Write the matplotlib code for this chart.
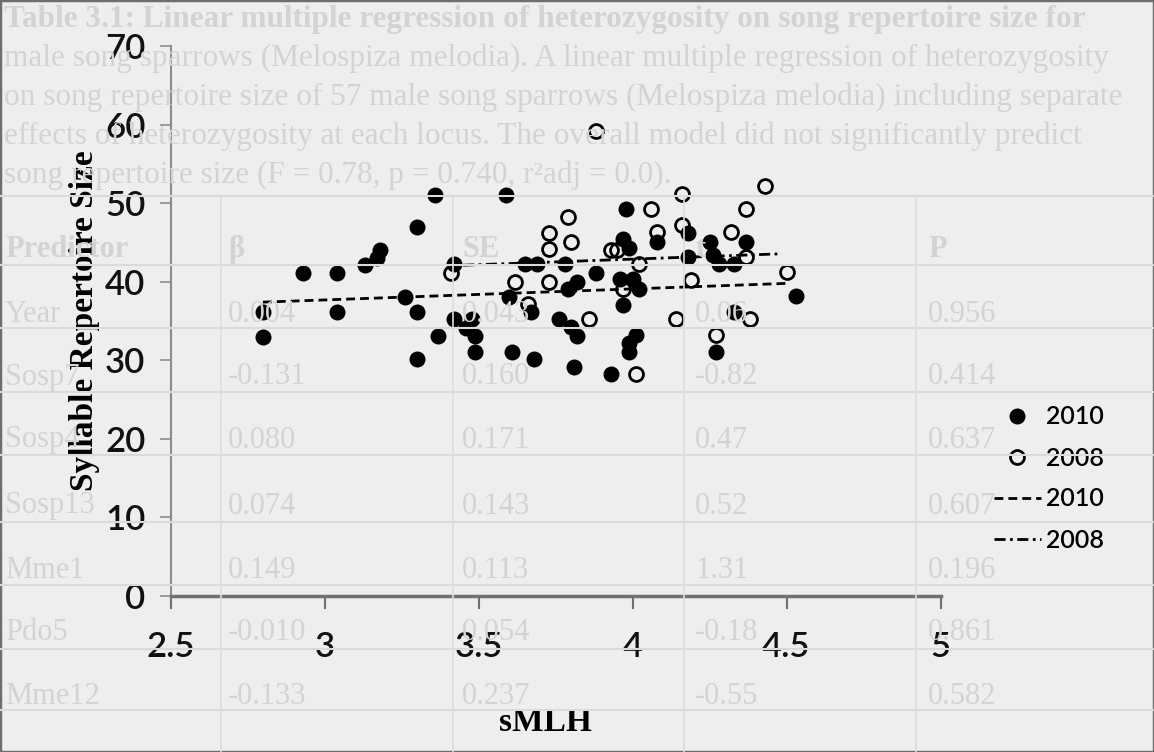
import matplotlib
matplotlib.use("Agg")
import matplotlib.pyplot as plt
from matplotlib.lines import Line2D
from matplotlib.patches import Rectangle
from matplotlib.ticker import FuncFormatter

# points (sMLH, syllable repertoire size)
x_2010 = [2.80, 2.80, 2.93, 3.04, 3.04, 3.13, 3.17, 3.18, 3.26, 3.30, 3.30, 3.30,
          3.36, 3.37, 3.42, 3.42, 3.46, 3.48, 3.49, 3.49, 3.59, 3.60, 3.61, 3.65,
          3.67, 3.68, 3.69, 3.76, 3.78, 3.79, 3.80, 3.82, 3.82, 3.81, 3.88, 3.93,
          3.97, 3.96, 3.97, 3.98, 3.99, 4.00, 4.01, 3.99, 3.99, 4.02, 4.08, 4.18,
          4.18, 4.25, 4.26, 4.28, 4.33, 4.33, 4.27, 4.37, 4.53]
y_2010 = [36.1, 33.0, 41.1, 41.1, 36.1, 42.1, 43.0, 44.1, 38.1, 47.0, 36.1, 30.2,
          51.1, 33.1, 42.3, 35.2, 34.1, 35.2, 33.1, 31.0, 51.1, 38.1, 31.1, 42.2,
          36.1, 30.2, 42.2, 35.2, 42.2, 39.1, 34.2, 33.1, 40.0, 29.1, 41.1, 28.2,
          37.1, 40.3, 45.4, 49.2, 44.3, 40.3, 33.2, 32.2, 31.1, 39.1, 45.1, 46.2,
          43.2, 45.1, 43.4, 42.2, 42.2, 36.2, 31.1, 45.1, 38.2]

x_2008 = [3.41, 3.62, 3.66, 3.73, 3.73, 3.73, 3.79, 3.80, 3.86, 3.88, 3.93, 3.95,
          3.97, 4.01, 4.02, 4.06, 4.08, 4.14, 4.16, 4.16, 4.19, 4.27, 4.32, 4.37,
          4.37, 4.38, 4.43, 4.50]
y_2008 = [41.1, 40.0, 37.2, 46.2, 44.2, 40.0, 48.2, 45.1, 35.2, 59.2, 44.1, 44.1,
          39.1, 28.2, 42.2, 49.2, 46.3, 35.2, 51.2, 47.2, 40.2, 33.2, 46.3, 49.2,
          43.1, 35.2, 52.2, 41.2]

# trend lines as drawn (end points)
trend_2010_x = [2.80, 4.51]
trend_2010_y = [37.4, 39.8]
trend_2008_x = [3.45, 4.48]
trend_2008_y = [42.1, 43.55]

x_ticks = [2.5, 3, 3.5, 4, 4.5, 5]
y_ticks = [0, 10, 20, 30, 40, 50, 60, 70]

# faint table that shows through the scan
caption_lines = [
    "Table 3.1: Linear multiple regression of heterozygosity on song repertoire size for",
    "male song sparrows (Melospiza melodia). A linear multiple regression of heterozygosity",
    "on song repertoire size of 57 male song sparrows (Melospiza melodia) including separate",
    "effects of heterozygosity at each locus. The overall model did not significantly predict",
    "song repertoire size (F = 0.78, p = 0.740, r\u00b2adj = 0.0).",
]
col_predictor = ["Predictor", "Year", "Sosp7", "Sosp4", "Sosp13", "Mme1", "Pdo5", "Mme12"]
col_beta = ["\u03b2", "0.004", "-0.131", "0.080", "0.074", "0.149", "-0.010", "-0.133"]
col_se = ["SE", "0.043", "0.160", "0.171", "0.143", "0.113", "0.054", "0.237"]
col_t = ["t", "0.06", "-0.82", "0.47", "0.52", "1.31", "-0.18", "-0.55"]
col_p = ["P", "0.956", "0.414", "0.637", "0.607", "0.196", "0.861", "0.582"]

W, H = 1154, 752
bg = "#eeeeee"
faint = "#d3d3d3"

fig = plt.figure(figsize=(W / 100, H / 100), dpi=100, facecolor=bg)


def fx(px):
    return px / W


def fy(py):
    return 1 - py / H


# background table (faint)
for i, line in enumerate(caption_lines):
    fig.text(fx(4), fy(19 + i * 39), line, color=faint, family="Liberation Serif",
             fontsize=22.5, fontweight="bold" if i == 0 else "normal", va="center", ha="left")
for yy in [196, 265, 328, 392, 455, 522, 585, 649, 710]:
    fig.add_artist(Line2D([0, 1], [fy(yy), fy(yy)], color="#dadada", lw=1.5))
for xx in [221, 453, 684, 916]:
    fig.add_artist(Line2D([fx(xx), fx(xx)], [fy(196), 0], color="#dddddd", lw=1.2))
row_y = [250, 314, 377, 440, 506, 570, 633, 697]
for col, xx in zip([col_predictor, col_beta, col_se, col_t, col_p], [5, 228, 462, 695, 928]):
    for txt, yy in zip(col, row_y):
        fig.text(fx(xx), fy(yy), txt, color=faint, family="Liberation Serif",
                 fontsize=22, fontweight="bold" if yy == 250 else "normal", va="center")

fig.add_artist(Rectangle((0, 0), 1, 1, transform=fig.transFigure, fill=False,
                         edgecolor="#6e6e6e", lw=2.5))

# chart
ax = fig.add_axes([fx(170.5), fy(596), fx(940.5) - fx(170.5), fy(46) - fy(596)])
ax.patch.set_alpha(0)

ax.plot(x_2010, y_2010, "o", color="black", ms=11.5, mew=0, label="2010", zorder=3)
ax.plot(x_2008, y_2008, "o", mfc="none", mec="black", ms=10, mew=2.0, label="2008", zorder=3)
ax.plot(trend_2010_x, trend_2010_y, color="black", lw=2.0, ls=(0, (3.2, 1.8)),
        label="2010", zorder=2)
ax.plot(trend_2008_x, trend_2008_y, color="black", lw=2.0, ls=(0, (4, 1.6, 1, 1.6)),
        label="2008", zorder=2)

ax.set_xlim(2.5, 5)
ax.set_ylim(0, 70)
ax.set_xticks(x_ticks)
ax.set_yticks(y_ticks)
ax.xaxis.set_major_formatter(FuncFormatter(lambda v, p: "%g" % v))

for s in ["top", "right"]:
    ax.spines[s].set_visible(False)
ax.spines["left"].set_color("#8c8c8c")
ax.spines["left"].set_linewidth(1.5)
ax.spines["bottom"].set_color("#707070")
ax.spines["bottom"].set_linewidth(2.5)

ax.tick_params(axis="x", direction="out", length=9, width=1.5, color="#707070",
               pad=16, labelsize=25)
ax.tick_params(axis="y", direction="out", length=8, width=1.2, color="#8c8c8c",
               pad=10, labelsize=25)
for lab in ax.get_xticklabels() + ax.get_yticklabels():
    lab.set_family("Lato")
    lab.set_fontweight("semibold")
    lab.set_color("#111111")

ax.set_ylabel("Syllable Repertoire Size", family="Liberation Serif", fontweight="bold",
              fontsize=24)
ax.yaxis.set_label_coords(-0.092, 0.5)
ax.set_xlabel("sMLH", family="Liberation Serif", fontweight="bold", fontsize=24)
ax.xaxis.set_label_coords(0.487, -0.202)

leg = ax.legend(loc="upper left", bbox_to_anchor=(fx(981), fy(393)),
                bbox_transform=fig.transFigure, frameon=False, borderpad=0,
                handlelength=1.9, handletextpad=0.2, labelspacing=0.72,
                prop={"family": "Lato", "size": 18, "weight": "semibold"})

fig.savefig("out.png", dpi=100, facecolor=bg)
